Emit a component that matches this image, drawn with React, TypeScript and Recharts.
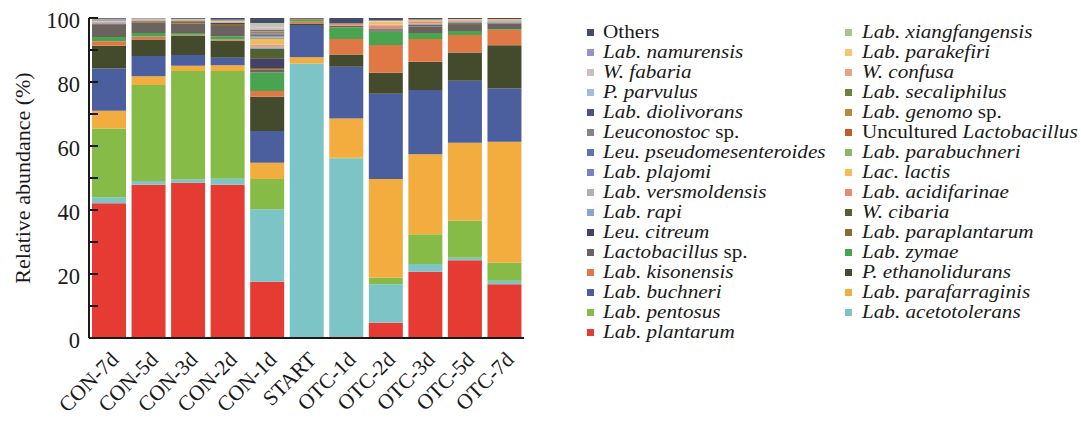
import React from 'react';
import { BarChart, Bar, XAxis, YAxis } from 'recharts';

const categories = ['CON-7d', 'CON-5d', 'CON-3d', 'CON-2d', 'CON-1d', 'START', 'OTC-1d', 'OTC-2d', 'OTC-3d', 'OTC-5d', 'OTC-7d'];

// relative abundance (%) per category, stacked from the bottom
const labPlantarum = [42.1, 47.9, 48.5, 47.9, 17.6, 0, 0.5, 4.8, 20.7, 24.3, 16.8];
const labAcetotolerans = [1.9, 1.2, 1.1, 1.9, 22.6, 85.8, 55.6, 12.0, 2.4, 0.8, 1.1];
const labPentosus = [21.5, 30.0, 33.8, 33.6, 9.5, 0, 0.2, 2.0, 9.3, 11.6, 5.6];
const labParafarraginis = [5.5, 2.7, 1.7, 1.8, 5.1, 1.9, 12.3, 30.9, 25.0, 24.3, 37.8];
const labBuchneri = [13.2, 6.3, 3.3, 2.4, 9.9, 10.1, 16.2, 26.6, 20.1, 19.4, 16.7];
const pEthanolidurans = [7.1, 5.2, 6.1, 5.3, 10.7, 0.5, 3.8, 6.6, 8.8, 8.8, 13.5];
const labKisonensis = [1.4, 0.9, 0.3, 0.4, 1.8, 0.7, 4.8, 8.7, 7.1, 5.5, 4.8];
const labZymae = [1.4, 1.1, 0.5, 0.9, 5.8, 0.5, 3.7, 4.1, 1.9, 1.2, 0.3];
const lactobacillusSp = [3.7, 3.2, 3.0, 3.3, 0.8, 0, 0.4, 0.5, 2.0, 1.9, 1.7];
const labParaplantarum = [0.2, 0.4, 0.5, 0.6, 0.6, 0.2, 0.1, 0.3, 0.3, 0.3, 0.2];
const leuCitreum = [0.2, 0.1, 0.1, 0.3, 3.0, 0, 0, 0.1, 0.2, 0.1, 0];
const wCibaria = [0.1, 0.1, 0.2, 0.1, 2.9, 0.1, 0, 0.1, 0.2, 0.2, 0.1];
const labRapi = [0.2, 0.1, 0.1, 0.1, 0.4, 0, 0, 0.2, 0.3, 0.4, 0.4];
const labAcidifarinae = [0.3, 0.2, 0.2, 0.1, 0.5, 0, 0.5, 0.8, 0.5, 0.4, 0.2];
const labVersmoldensis = [0.2, 0.2, 0.2, 0.2, 0.5, 0, 0.2, 0.3, 0.3, 0.3, 0.2];
const lacLactis = [0.1, 0.1, 0.1, 0.3, 1.8, 0, 0, 0.4, 0.3, 0.2, 0.2];
const labPlajomi = [0.1, 0, 0, 0, 0.4, 0, 0, 0, 0, 0, 0];
const labParabuchneri = [0.1, 0, 0, 0, 0.3, 0, 0, 0, 0, 0, 0];
const leuPseudomesenteroides = [0.1, 0, 0.1, 0.1, 0.6, 0, 0, 0, 0, 0, 0];
const unculturedLactobacillus = [0, 0, 0, 0, 0.3, 0, 0, 0, 0, 0, 0];
const leuconostocSp = [0.1, 0, 0, 0, 0.6, 0, 0, 0, 0, 0, 0];
const labGenomoSp = [0, 0, 0, 0, 0.2, 0, 0, 0, 0, 0, 0.1];
const labDiolivorans = [0.1, 0.1, 0, 0.2, 0.3, 0, 0, 0, 0, 0, 0];
const labSecaliphilus = [0, 0, 0, 0, 0.2, 0, 0, 0, 0, 0, 0];
const pParvulus = [0.1, 0, 0, 0, 0.3, 0, 0, 0, 0, 0, 0];
const wConfusa = [0, 0, 0, 0, 0.3, 0, 0, 0.3, 0, 0, 0];
const wFabaria = [0.1, 0.1, 0, 0, 0.8, 0, 0, 0.2, 0, 0, 0];
const labParakefiri = [0, 0, 0, 0, 0.2, 0, 0, 0.3, 0.1, 0, 0];
const labNamurensis = [0, 0, 0, 0, 0.2, 0, 0, 0, 0, 0, 0];
const labXiangfangensis = [0, 0, 0, 0, 0.2, 0, 0, 0, 0, 0, 0];
const others = [0.2, 0.1, 0.2, 0.5, 1.6, 0.2, 1.7, 0.8, 0.5, 0.3, 0.3];

const yTicks = [0, 10, 20, 30, 40, 50, 60, 70, 80, 90, 100];

// bottom-to-top stacking order
const series = [
  { name: 'Lab. plantarum', values: labPlantarum, color: '#E63B33' },
  { name: 'Lab. acetotolerans', values: labAcetotolerans, color: '#7CC4C5' },
  { name: 'Lab. pentosus', values: labPentosus, color: '#87BB47' },
  { name: 'Lab. parafarraginis', values: labParafarraginis, color: '#F2AD3E' },
  { name: 'Lab. buchneri', values: labBuchneri, color: '#4B5E9D' },
  { name: 'P. ethanolidurans', values: pEthanolidurans, color: '#434B2C' },
  { name: 'Lab. kisonensis', values: labKisonensis, color: '#E07845' },
  { name: 'Lab. zymae', values: labZymae, color: '#48A44F' },
  { name: 'Lactobacillus sp.', values: lactobacillusSp, color: '#6B6360' },
  { name: 'Lab. paraplantarum', values: labParaplantarum, color: '#8B6B32' },
  { name: 'Leu. citreum', values: leuCitreum, color: '#434265' },
  { name: 'W. cibaria', values: wCibaria, color: '#52612E' },
  { name: 'Lab. rapi', values: labRapi, color: '#86A7CB' },
  { name: 'Lab. acidifarinae', values: labAcidifarinae, color: '#E98B6C' },
  { name: 'Lab. versmoldensis', values: labVersmoldensis, color: '#B5AEAB' },
  { name: 'Lac. lactis', values: lacLactis, color: '#F6BB52' },
  { name: 'Lab. plajomi', values: labPlajomi, color: '#7982BD' },
  { name: 'Lab. parabuchneri', values: labParabuchneri, color: '#8DB66B' },
  { name: 'Leu. pseudomesenteroides', values: leuPseudomesenteroides, color: '#5A77AC' },
  { name: 'Uncultured Lactobacillus', values: unculturedLactobacillus, color: '#C4592B' },
  { name: 'Leuconostoc sp.', values: leuconostocSp, color: '#888280' },
  { name: 'Lab. genomo sp.', values: labGenomoSp, color: '#B88A3A' },
  { name: 'Lab. diolivorans', values: labDiolivorans, color: '#4A5287' },
  { name: 'Lab. secaliphilus', values: labSecaliphilus, color: '#6D8040' },
  { name: 'P. parvulus', values: pParvulus, color: '#A3BBD9' },
  { name: 'W. confusa', values: wConfusa, color: '#ECA185' },
  { name: 'W. fabaria', values: wFabaria, color: '#C8C1BD' },
  { name: 'Lab. parakefiri', values: labParakefiri, color: '#F4C66F' },
  { name: 'Lab. namurensis', values: labNamurensis, color: '#8F97C9' },
  { name: 'Lab. xiangfangensis', values: labXiangfangensis, color: '#A1C78A' },
  { name: 'Others', values: others, color: '#444C66' },
];

const data = categories.map((c, i) => {
  const row: Record<string, any> = { category: c };
  series.forEach((s, k) => {
    row['s' + k] = s.values[i];
  });
  return row;
});

const FONT = 'Liberation Serif';

function renderName(name: string) {
  if (name === 'Others') return <span>{name}</span>;
  if (name.startsWith('Uncultured ')) {
    return (
      <span>
        Uncultured <i>{name.slice(11)}</i>
      </span>
    );
  }
  if (name.endsWith(' sp.')) {
    return (
      <span>
        <i>{name.slice(0, -4)}</i> sp.
      </span>
    );
  }
  return <i>{name}</i>;
}

const XTick = (props: any) => {
  const { x, y, payload } = props;
  const ax = x + 11;
  const ay = y + 23;
  return (
    <text
      x={ax}
      y={ay}
      transform={`rotate(-45, ${ax}, ${ay})`}
      textAnchor="end"
      fontSize={21.5}
      fontFamily={FONT}
      fill="#1a1a1a"
    >
      {payload.value}
    </text>
  );
};

const YTick = (props: any) => {
  const { x, y, payload } = props;
  if (payload.value % 20 !== 0) return <g />;
  return (
    <text x={x} y={y} dy={10} textAnchor="end" fontSize={22.5} fontFamily={FONT} fill="#1a1a1a">
      {payload.value}
    </text>
  );
};

export default function App() {
  const reversed = [...series].reverse();
  return (
    <div style={{ position: 'absolute', left: 0, top: 0, width: 1081, height: 422, background: '#fff', fontFamily: FONT }}>
      <BarChart
        width={1081}
        height={422}
        data={data}
        margin={{ top: 18, right: 557, bottom: 4, left: 29 }}
        barSize={34}
        style={{ fontFamily: FONT }}
      >
        <XAxis
          dataKey="category"
          height={80}
          tickLine={false}
          tickSize={0}
          tickMargin={0}
          interval={0}
          axisLine={{ stroke: '#1a1a1a', strokeWidth: 2 }}
          tick={<XTick />}
        />
        <XAxis
          xAxisId="top"
          dataKey="category"
          orientation="top"
          height={0}
          tick={false}
          tickLine={false}
          axisLine={{ stroke: '#c9c9c9', strokeWidth: 2 }}
        />
        <YAxis
          width={60}
          domain={[0, 100]}
          ticks={yTicks}
          interval={0}
          allowDataOverflow
          tickSize={-9}
          tickMargin={18}
          tickLine={{ stroke: '#1a1a1a', strokeWidth: 2 }}
          axisLine={{ stroke: '#1a1a1a', strokeWidth: 2 }}
          tick={YTick}
        />
        <YAxis
          yAxisId="right"
          orientation="right"
          width={0}
          domain={[0, 100]}
          tick={false}
          tickLine={false}
          axisLine={{ stroke: '#c9c9c9', strokeWidth: 2 }}
        />
        {series.map((s, k) => (
          <Bar
            key={s.name}
            dataKey={'s' + k}
            name={s.name}
            stackId="a"
            fill={s.color}
            isAnimationActive={false}
          />
        ))}
      </BarChart>
      <div
        style={{
          position: 'absolute',
          left: 23,
          top: 178,
          transform: 'translate(-50%, -50%) rotate(-90deg)',
          whiteSpace: 'nowrap',
          fontFamily: FONT,
          fontSize: 22,
          color: '#1a1a1a',
        }}
      >
        Relative abundance (%)
      </div>
      {reversed.map((s, i) => {
        const col = i % 2;
        const row = Math.floor(i / 2);
        const yc = 32 + row * 20;
        const sx = col === 0 ? 587 : 845;
        const tx = col === 0 ? 603 : 862;
        return (
          <React.Fragment key={s.name}>
            <div
              style={{
                position: 'absolute',
                left: sx,
                top: yc - 3.5,
                width: 7,
                height: 7,
                background: s.color,
              }}
            />
            <div
              style={{
                position: 'absolute',
                left: tx,
                top: yc - 10,
                height: 20,
                lineHeight: '20px',
                fontFamily: FONT,
                fontSize: 17.8,
                color: '#1a1a1a',
                whiteSpace: 'nowrap',
                transform: 'scaleX(1.19)',
                transformOrigin: 'left center',
              }}
            >
              {renderName(s.name)}
            </div>
          </React.Fragment>
        );
      })}
    </div>
  );
}
